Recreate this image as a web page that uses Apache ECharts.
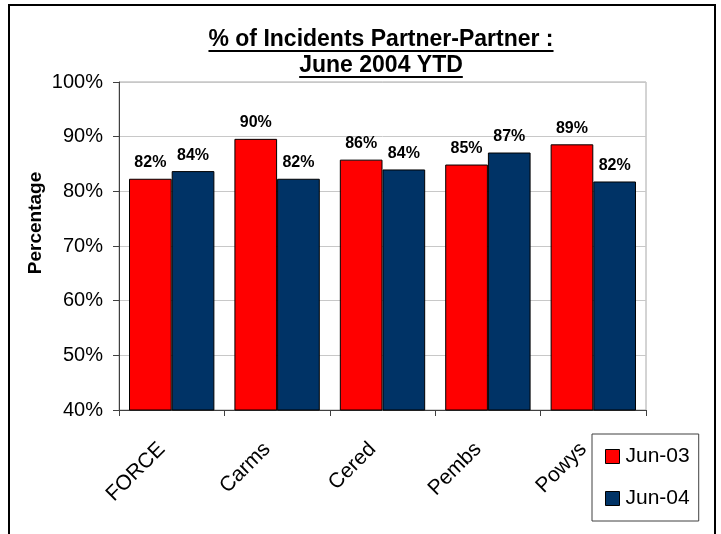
<!DOCTYPE html>
<html>
<head>
<meta charset="utf-8">
<script src="https://cdn.jsdelivr.net/npm/echarts@6/dist/echarts.min.js"></script>
<style>
  html, body { margin: 0; padding: 0; background: #fff; }
  #chart { width: 721px; height: 534px; }
</style>
</head>
<body>
<div id="chart"></div>
<script>
const categories = ["FORCE", "Carms", "Cered", "Pembs", "Powys"];
const jun03 = [82.3, 89.6, 85.8, 84.9, 88.6];
const jun04 = [83.7, 82.3, 84.0, 87.1, 81.8];
const seriesNames = ["Jun-03", "Jun-04"];
const titleLines = ["% of Incidents Partner-Partner :", "June 2004 YTD"];
const yAxisTitle = "Percentage";

const font = "Liberation Sans, Arial, sans-serif";
const colors = ["#ff0000", "#003366"];

const chart = echarts.init(document.getElementById("chart"));

// measure title lines so the underline fits the text
const ctx = document.createElement("canvas").getContext("2d");
const titleFont = "bold 23px " + font;
ctx.font = titleFont;
const titleY = [40, 66];
const centerX = 381;
const titleGraphics = [];
titleLines.forEach((t, i) => {
  const w = ctx.measureText(t).width;
  titleGraphics.push({
    type: "text",
    x: centerX,
    y: titleY[i],
    style: { text: t, font: titleFont, fill: "#000", align: "center", verticalAlign: "middle" },
  });
  titleGraphics.push({
    type: "line",
    shape: { x1: centerX - w / 2, y1: titleY[i] + 11, x2: centerX + w / 2, y2: titleY[i] + 11 },
    style: { stroke: "#000", lineWidth: 2 },
  });
});

const labelOpt = {
  show: true,
  position: "top",
  distance: 8,
  fontFamily: font,
  fontSize: 16,
  fontWeight: "bold",
  color: "#000",
  formatter: (p) => Math.round(p.value) + "%",
};

const option = {
  animation: false,
  textStyle: { fontFamily: font },
  grid: {
    left: 119,
    right: 75,
    top: 82,
    bottom: 124,
    show: true,
    borderColor: "#a8a8a8",
    borderWidth: 1,
  },
  graphic: [
    {
      type: "rect",
      shape: { x: 9, y: 5, width: 706, height: 540 },
      style: { fill: "none", stroke: "#000", lineWidth: 2 },
    },
    {
      type: "text",
      x: 36,
      y: 223,
      rotation: Math.PI / 2,
      style: {
        text: yAxisTitle,
        font: "bold 19px " + font,
        fill: "#000",
        align: "center",
        verticalAlign: "middle",
      },
    },
    ...titleGraphics,
  ],
  legend: {
    orient: "vertical",
    left: 592,
    top: 434,
    padding: [12, 9, 12, 13],
    itemGap: 21,
    itemWidth: 14,
    itemHeight: 14,
    icon: "rect",
    borderColor: "#404040",
    borderWidth: 1,
    backgroundColor: "#fff",
    itemStyle: { borderColor: "#000", borderWidth: 1 },
    textStyle: { fontFamily: font, fontSize: 21, color: "#000", padding: [0, 0, 0, 1] },
    data: seriesNames,
  },
  xAxis: {
    type: "category",
    data: categories,
    axisLine: { lineStyle: { color: "#404040" } },
    axisTick: { show: true, length: 6, lineStyle: { color: "#404040" } },
    axisLabel: {
      rotate: 45,
      margin: 26,
      padding: [0, 14, 0, 0],
      fontFamily: font,
      fontSize: 21,
      color: "#000",
    },
  },
  yAxis: {
    type: "value",
    min: 40,
    max: 100,
    interval: 10,
    axisLine: { show: true, lineStyle: { color: "#404040" } },
    axisTick: { show: true, length: 6, lineStyle: { color: "#404040" } },
    axisLabel: {
      formatter: "{value}%",
      fontFamily: font,
      fontSize: 20,
      color: "#000",
      margin: 16,
    },
    splitLine: { lineStyle: { color: "#c8c8c8" } },
  },
  series: [
    {
      name: seriesNames[0],
      type: "bar",
      data: jun03,
      barGap: "0%",
      barCategoryGap: "19%",
      itemStyle: { color: colors[0], borderColor: "#000", borderWidth: 1 },
      label: labelOpt,
    },
    {
      name: seriesNames[1],
      type: "bar",
      data: jun04,
      itemStyle: { color: colors[1], borderColor: "#000", borderWidth: 1 },
      label: labelOpt,
    },
  ],
};

chart.setOption(option);
</script>
</body>
</html>
